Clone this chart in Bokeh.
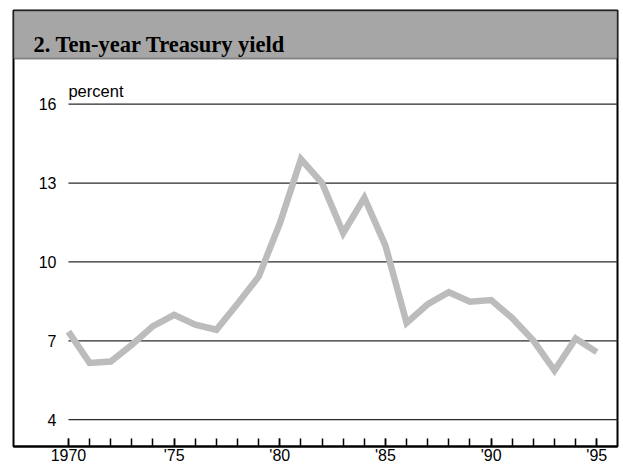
from bokeh.plotting import figure
from bokeh.models import Range1d, FixedTicker, BoxAnnotation, Label
from bokeh.embed import file_html
from bokeh.resources import INLINE
from bokeh.core.properties import value

# ---- data ----
years = list(range(1970, 1996))
yields = [7.35, 6.16, 6.21, 6.85, 7.56, 7.99, 7.61, 7.42, 8.41, 9.44,
          11.46, 13.91, 13.00, 11.10, 12.44, 10.62, 7.68, 8.39, 8.85, 8.49,
          8.55, 7.86, 7.01, 5.87, 7.09, 6.57]
y_ticks = [4, 7, 10, 13, 16]
x_label_years = [1970, 1975, 1980, 1985, 1990, 1995]
x_tick_labels = ["1970", "'75", "'80", "'85", "'90", "'95"]
title_text = "2. Ten-year Treasury yield"
unit_text = "percent"

# ---- layout constants ----
X_START, X_END = 1967.40, 1995.98
Y_MIN, Y_MAX = 2.98, 19.565
HEADER_BOTTOM = 17.73
SANS = "Liberation Sans"
SERIF = "Liberation Serif"

p = figure(width=620, height=466, output_backend="svg", toolbar_location=None,
           x_range=Range1d(X_START, X_END), y_range=Range1d(Y_MIN, Y_MAX),
           y_axis_location=None,
           min_border_left=13, min_border_right=3, min_border_top=10,
           min_border_bottom=0)
p.xgrid.visible = False
p.ygrid.visible = False
p.outline_line_color = "black"
p.outline_line_width = 2
p.background_fill_color = "white"
p.border_fill_color = "white"

ax = p.xaxis[0]
ax.ticker = FixedTicker(ticks=x_label_years, minor_ticks=years)
ax.major_label_overrides = {y: t for y, t in zip(x_label_years, x_tick_labels)}
ax.axis_line_color = "black"
ax.axis_line_width = 2
ax.major_tick_in = 8
ax.major_tick_out = 0
ax.minor_tick_in = 8
ax.minor_tick_out = 0
ax.major_tick_line_color = "black"
ax.minor_tick_line_color = "black"
ax.major_tick_line_width = 1.5
ax.minor_tick_line_width = 1.5
ax.major_label_standoff = 0
ax.axis_label_standoff = 0
ax.major_label_text_font = SANS
ax.major_label_text_font_size = "16px"
ax.major_label_text_color = "black"

# header band
header = BoxAnnotation(bottom=HEADER_BOTTOM, fill_color="#a6a6a6", fill_alpha=1.0,
                       line_color="black", line_width=2, level="underlay")
p.add_layout(header)

# grid lines from first year to right edge
p.segment(x0=[years[0]] * len(y_ticks), y0=y_ticks,
          x1=[X_END] * len(y_ticks), y1=y_ticks,
          line_color="#2a2a2a", line_width=1.2)

# y tick labels
p.text(x=[years[0]] * len(y_ticks), y=y_ticks, text=[str(v) for v in y_ticks],
       x_offset=-12, text_align="right", text_baseline="middle",
       text_font=value(SANS), text_font_size="16px", text_color="black")

# data line
p.line(years, yields, line_color="#bcbcbc", line_width=6.5, line_join="miter")

# unit label
p.add_layout(Label(x=years[0], y=y_ticks[-1], text=unit_text, y_offset=13,
                   text_baseline="alphabetic", text_align="left",
                   text_font=SANS, text_font_size="16.5px", text_color="black"))

# title
p.add_layout(Label(x=X_START, y=HEADER_BOTTOM, text=title_text, x_offset=20,
                   y_offset=14.5, text_baseline="alphabetic", text_align="left",
                   text_font=SERIF, text_font_style="bold",
                   text_font_size="22.5px", text_color="black"))

open("out.html", "w").write(file_html(p, INLINE))
